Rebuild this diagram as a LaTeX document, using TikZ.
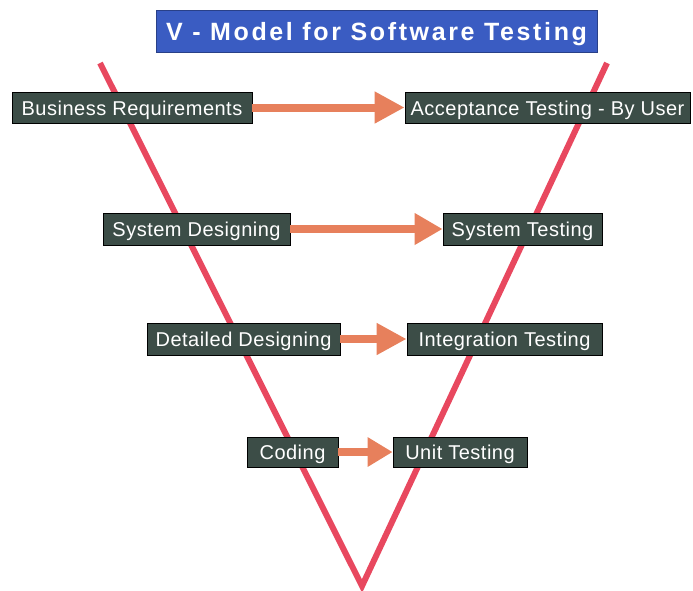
\documentclass[tikz,border=0pt]{standalone}
\usepackage{fontspec}
\setmainfont{Liberation Sans}
\usetikzlibrary{arrows.meta}
\definecolor{vred}{HTML}{E8485F}
\definecolor{arrowc}{HTML}{E7805C}
\definecolor{boxc}{HTML}{3C4D47}
\definecolor{titlec}{HTML}{3A5CC2}
\tikzset{
  stage/.style={draw=black, line width=0.8pt, fill=boxc, text=white, inner sep=0pt,
    text height=17pt, text depth=2pt,
    font={\fontsize{20}{22}\selectfont\addfontfeature{LetterSpace=2.5}}},
  flow/.style={draw=arrowc, line width=8pt},
  vline/.style={draw=vred, line width=6pt, line join=miter, line cap=butt}
}
\begin{document}
\begin{tikzpicture}[x=1pt,y=-1pt]
\useasboundingbox (0,0) rectangle (693,590);
% title
\node[fill=titlec, draw=titlec!70!black, line width=0.6pt, text=white, inner sep=0pt,
  minimum width=441pt, minimum height=42pt, text height=20pt, text depth=2pt,
  font={\fontsize{25}{27}\selectfont\bfseries\addfontfeature{LetterSpace=10.5}}]
  (title) at (376.5,31) {V - Model for Software Testing};
% V
\coordinate (vl) at (100,63);
\coordinate (vb) at (362,586);
\coordinate (vr) at (607,63);
\draw[vline] (vl) -- (vb) -- (vr);
% boxes
\node[stage, minimum width=240pt, minimum height=31pt] (br) at (132,107.5) {Business Requirements};
\node[stage, minimum width=285pt, minimum height=31pt] (at) at (547.5,107.5) {Acceptance Testing - By User};
\node[stage, minimum width=187pt, minimum height=32pt] (sd) at (196.5,229) {System Designing};
\node[stage, minimum width=159pt, minimum height=32pt] (st) at (522.5,229) {System Testing};
\node[stage, minimum width=193pt, minimum height=32pt] (dd) at (243.5,339) {Detailed Designing};
\node[stage, minimum width=195pt, minimum height=32pt] (it) at (504.5,339) {Integration Testing};
\node[stage, minimum width=91pt, minimum height=30pt] (cd) at (292.5,452) {Coding};
\node[stage, minimum width=134pt, minimum height=30pt] (ut) at (460,452) {Unit Testing};
% arrows
\draw[flow, -{Triangle[length=30pt,width=30pt]}, arrowc] (br.east) -- (at.west);
\draw[flow, -{Triangle[length=28pt,width=30pt]}, arrowc] (sd.east) -- (st.west);
\draw[flow, -{Triangle[length=30pt,width=30pt]}, arrowc] (dd.east) -- (it.west);
\draw[flow, -{Triangle[length=25pt,width=28pt]}, arrowc] (cd.east) -- (ut.west);
\end{tikzpicture}
\end{document}
